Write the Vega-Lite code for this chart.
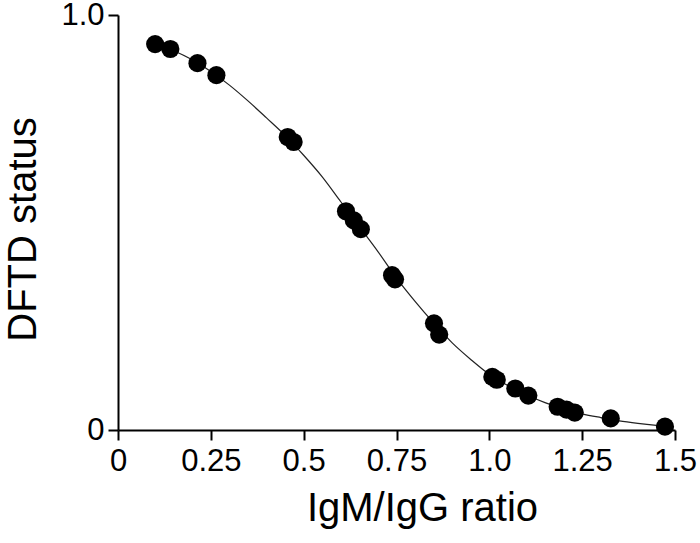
{
  "$schema": "https://vega.github.io/schema/vega-lite/v6.json",
  "width": 557,
  "height": 415,
  "autosize": {"type": "none"},
  "padding": {"left": 118, "top": 15, "right": 25, "bottom": 113},
  "background": "white",
  "config": {
    "view": {"stroke": null},
    "font": "Liberation Sans",
    "axis": {
      "grid": false,
      "domainColor": "black",
      "domainWidth": 2,
      "tickColor": "black",
      "tickWidth": 2,
      "tickSize": 10,
      "labelColor": "black",
      "labelFont": "Liberation Sans",
      "labelFontSize": 31,
      "titleFont": "Liberation Sans",
      "titleFontSize": 40,
      "titleFontWeight": "normal",
      "titleColor": "black",
      "labelOverlap": false,
      "labelBound": false,
      "labelFlush": false
    }
  },
  "datasets": {
    "points": [
      {"ratio": 0.100, "status": 0.930},
      {"ratio": 0.141, "status": 0.918},
      {"ratio": 0.214, "status": 0.884},
      {"ratio": 0.265, "status": 0.855},
      {"ratio": 0.457, "status": 0.706},
      {"ratio": 0.473, "status": 0.694},
      {"ratio": 0.614, "status": 0.527},
      {"ratio": 0.635, "status": 0.505},
      {"ratio": 0.654, "status": 0.484},
      {"ratio": 0.738, "status": 0.373},
      {"ratio": 0.746, "status": 0.363},
      {"ratio": 0.851, "status": 0.257},
      {"ratio": 0.865, "status": 0.230},
      {"ratio": 1.008, "status": 0.128},
      {"ratio": 1.020, "status": 0.121},
      {"ratio": 1.070, "status": 0.100},
      {"ratio": 1.105, "status": 0.083},
      {"ratio": 1.184, "status": 0.056},
      {"ratio": 1.208, "status": 0.049},
      {"ratio": 1.230, "status": 0.042},
      {"ratio": 1.327, "status": 0.028},
      {"ratio": 1.473, "status": 0.008}
    ],
    "curve": [
      {"ratio": 0.10, "status": 0.930},
      {"ratio": 0.15, "status": 0.914},
      {"ratio": 0.20, "status": 0.892},
      {"ratio": 0.25, "status": 0.864},
      {"ratio": 0.30, "status": 0.831},
      {"ratio": 0.35, "status": 0.793},
      {"ratio": 0.40, "status": 0.752},
      {"ratio": 0.45, "status": 0.710},
      {"ratio": 0.50, "status": 0.662},
      {"ratio": 0.55, "status": 0.610},
      {"ratio": 0.60, "status": 0.550},
      {"ratio": 0.65, "status": 0.490},
      {"ratio": 0.70, "status": 0.430},
      {"ratio": 0.75, "status": 0.366},
      {"ratio": 0.80, "status": 0.310},
      {"ratio": 0.85, "status": 0.258},
      {"ratio": 0.90, "status": 0.210},
      {"ratio": 0.95, "status": 0.170},
      {"ratio": 1.00, "status": 0.134},
      {"ratio": 1.05, "status": 0.107},
      {"ratio": 1.10, "status": 0.085},
      {"ratio": 1.15, "status": 0.066},
      {"ratio": 1.20, "status": 0.051},
      {"ratio": 1.25, "status": 0.039},
      {"ratio": 1.30, "status": 0.030},
      {"ratio": 1.35, "status": 0.022},
      {"ratio": 1.40, "status": 0.016},
      {"ratio": 1.45, "status": 0.011},
      {"ratio": 1.473, "status": 0.009}
    ]
  },
  "encoding": {
    "x": {
      "field": "ratio",
      "type": "quantitative",
      "scale": {"domain": [0, 1.5], "nice": false, "zero": false},
      "axis": {
        "title": "IgM/IgG ratio",
        "values": [0, 0.25, 0.5, 0.75, 1, 1.25, 1.5],
        "labelExpr": "datum.value === 1 ? '1.0' : format(datum.value, '~g')",
        "labelPadding": 6,
        "titlePadding": 12,
        "titleX": 304
      }
    },
    "y": {
      "field": "status",
      "type": "quantitative",
      "scale": {"domain": [0, 1], "nice": false},
      "axis": {
        "title": "DFTD status",
        "values": [0, 1],
        "labelExpr": "datum.value === 1 ? '1.0' : '0'",
        "labelPadding": 4,
        "titlePadding": 17,
        "titleY": 214
      }
    }
  },
  "layer": [
    {
      "data": {"name": "curve"},
      "mark": {"type": "line", "interpolate": "monotone", "color": "#222222", "strokeWidth": 1.2}
    },
    {
      "data": {"name": "points"},
      "mark": {"type": "circle", "color": "black", "opacity": 1, "size": 330}
    }
  ]
}
